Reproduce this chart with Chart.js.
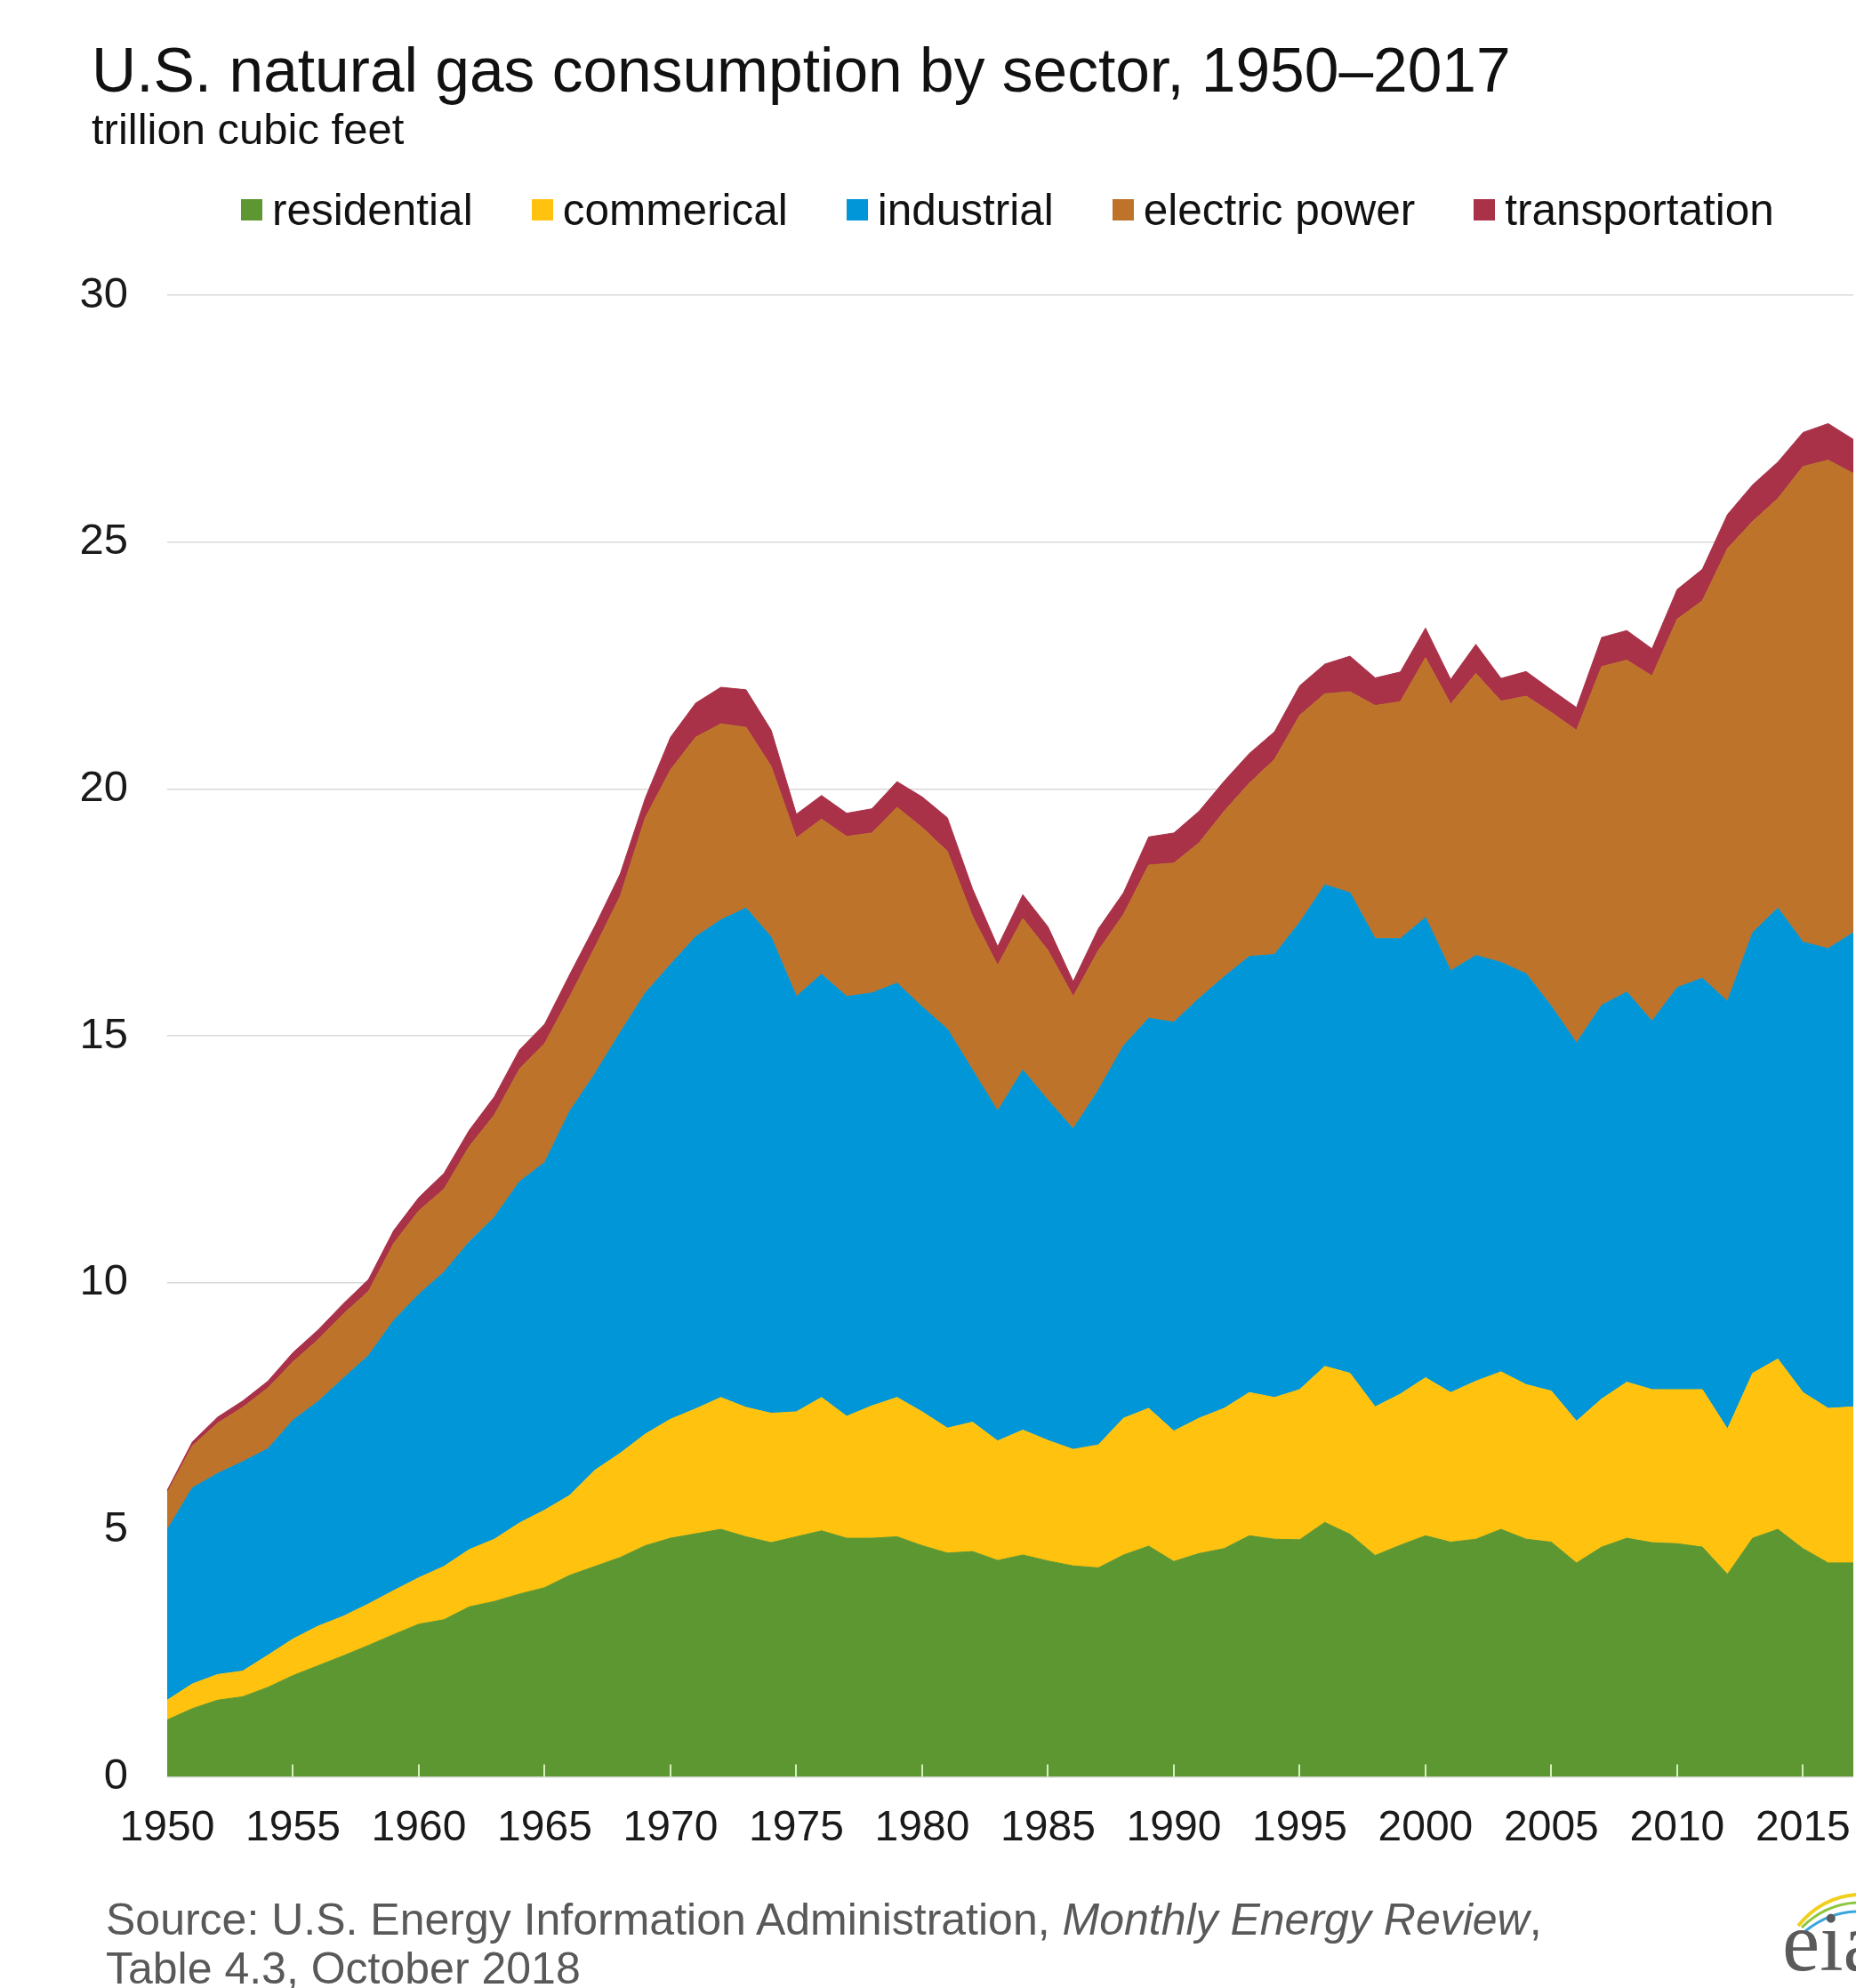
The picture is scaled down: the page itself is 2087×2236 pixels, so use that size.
<!DOCTYPE html>
<html>
<head>
<meta charset="utf-8">
<script src="https://cdn.jsdelivr.net/npm/chart.js@4.4.1/dist/chart.umd.min.js"></script>
<style>
html,body{margin:0;padding:0;background:#fff;width:2087px;height:2236px;overflow:hidden;font-family:"Liberation Sans",Arial,sans-serif;}
#wrap{position:relative;width:2087px;height:2236px;}
canvas{position:absolute;left:0;top:0;}
.t{position:absolute;white-space:nowrap;}
#title{left:103px;top:45px;font-size:69.5px;line-height:69px;color:#111;}
#sub{left:103px;top:121px;font-size:49px;line-height:49px;color:#111;}
#legend{position:absolute;left:271px;top:212px;height:48px;display:flex;align-items:center;gap:66px;font-size:49.5px;line-height:48px;color:#111;white-space:nowrap;}
.item{display:flex;align-items:center;}
.box{width:24px;height:24px;margin-right:11px;}
#src{left:119px;top:2132px;font-size:50px;line-height:55px;color:#595959;}
</style>
</head>
<body>
<div id="wrap">
<canvas id="c" width="2087" height="2236"></canvas>
<div class="t" id="title">U.S. natural gas consumption by sector, 1950–2017</div>
<div class="t" id="sub">trillion cubic feet</div>
<div id="legend"></div>
<div class="t" id="src">Source: U.S. Energy Information Administration, <i>Monthly Energy Review</i>,<br>Table 4.3, October 2018</div>
<svg style="position:absolute;left:2000px;top:2120px" width="87" height="116">
  <path d="M22 46 Q48 14 87 11" stroke="#f0cf1e" stroke-width="4" fill="none"/>
  <path d="M26 48 Q52 22 87 20" stroke="#8cc63e" stroke-width="3" fill="none"/>
  <path d="M30 52 Q56 31 87 30" stroke="#3aa5dc" stroke-width="3" fill="none"/>
  <text x="4" y="96" font-family="Liberation Serif, serif" font-size="95" fill="#5a5a5a">eia</text>
</svg>
</div>
<script>
// ---- data (trillion cubic feet) ----
const years = Array.from({length: 68}, (_, i) => String(1950 + i));

const residential = [
  1.15,1.38,1.55,1.62,1.81,2.05,2.25,2.45,2.66,2.88,
  3.09,3.18,3.44,3.55,3.70,3.83,4.08,4.26,4.44,4.68,
  4.83,4.92,5.01,4.86,4.74,4.86,4.98,4.83,4.83,4.86,
  4.68,4.53,4.56,4.38,4.49,4.37,4.27,4.23,4.49,4.67,
  4.36,4.52,4.62,4.88,4.81,4.80,5.15,4.91,4.48,4.69,
  4.88,4.75,4.81,5.01,4.81,4.75,4.33,4.65,4.83,4.74,
  4.72,4.65,4.10,4.83,5.01,4.62,4.33,4.33];

const commercial = [
  0.40,0.50,0.52,0.52,0.65,0.74,0.80,0.80,0.84,0.89,
  0.94,1.08,1.16,1.26,1.44,1.57,1.62,1.95,2.11,2.26,
  2.41,2.53,2.67,2.62,2.62,2.53,2.70,2.47,2.68,2.82,
  2.71,2.53,2.62,2.42,2.53,2.44,2.36,2.49,2.77,2.79,
  2.64,2.74,2.84,2.90,2.87,3.04,3.16,3.26,3.01,3.06,
  3.20,3.03,3.20,3.19,3.13,3.06,2.87,3.00,3.16,3.10,
  3.12,3.19,2.94,3.34,3.45,3.16,3.13,3.16];

const industrial = [
  3.45,3.97,4.07,4.24,4.18,4.43,4.55,4.82,5.03,5.47,
  5.74,5.96,6.23,6.52,6.91,7.04,7.78,8.03,8.52,8.93,
  9.21,9.56,9.67,10.11,9.64,8.41,8.57,8.50,8.36,8.39,
  8.20,8.08,7.13,6.68,7.29,6.89,6.49,7.18,7.54,7.90,
  8.28,8.50,8.74,8.83,8.97,9.46,9.75,9.73,9.48,9.22,
  9.32,8.54,8.62,8.29,8.32,7.79,7.66,7.97,7.90,7.46,
  8.14,8.33,8.66,8.92,9.13,9.12,9.31,9.60];

const electricPower = [
  0.75,0.85,1.02,1.10,1.23,1.18,1.25,1.30,1.30,1.56,
  1.69,1.68,1.93,2.07,2.28,2.41,2.32,2.56,2.76,3.55,
  3.94,4.04,3.97,3.66,3.46,3.21,3.14,3.24,3.24,3.56,
  3.63,3.60,3.11,2.95,3.07,3.03,2.68,2.83,2.66,3.10,
  3.22,3.15,3.35,3.51,3.95,4.19,3.87,4.07,4.72,4.80,
  5.26,5.40,5.71,5.29,5.62,5.95,6.33,6.86,6.72,6.99,
  7.46,7.64,9.17,8.33,8.29,9.63,9.89,9.30];

const transportation = [
  0.05,0.08,0.12,0.13,0.14,0.19,0.20,0.21,0.24,0.26,
  0.27,0.32,0.33,0.37,0.39,0.39,0.45,0.43,0.45,0.40,
  0.66,0.69,0.74,0.76,0.73,0.48,0.48,0.47,0.49,0.52,
  0.62,0.68,0.56,0.38,0.48,0.48,0.30,0.44,0.44,0.57,
  0.61,0.64,0.61,0.60,0.56,0.60,0.60,0.72,0.56,0.60,
  0.60,0.50,0.59,0.46,0.50,0.46,0.46,0.59,0.60,0.55,
  0.60,0.64,0.69,0.74,0.74,0.69,0.74,0.69];

const seriesNames = ['residential','commerical','industrial','electric power','transportation'];
const seriesColors = ['#5d9732','#ffc20e','#0096d7','#bd732a','#a93249'];
const seriesData = [residential, commercial, industrial, electricPower, transportation];

const yTicks = [0,5,10,15,20,25,30];

// ---- legend (HTML text) ----
const lg = document.getElementById('legend');
seriesNames.forEach((n, i) => {
  const it = document.createElement('div'); it.className = 'item';
  const b = document.createElement('div'); b.className = 'box'; b.style.background = seriesColors[i];
  const s = document.createElement('span'); s.textContent = n;
  it.appendChild(b); it.appendChild(s); lg.appendChild(it);
});

const FONT = '"Liberation Sans", Arial, sans-serif';

const tickMarks = {
  id: 'tickMarks',
  afterDatasetsDraw(c) {
    const xs = c.scales.x, a = c.chartArea, g = c.ctx;
    g.save();
    g.strokeStyle = 'rgba(225,250,200,0.9)';
    g.lineWidth = 2;
    years.forEach((yr, i) => {
      if (+yr % 5 === 0 && +yr !== 1950) {
        const px = Math.round(xs.getPixelForValue(i));
        g.beginPath(); g.moveTo(px, a.bottom); g.lineTo(px, a.bottom - 14); g.stroke();
      }
    });
    g.restore();
  }
};

new Chart(document.getElementById('c').getContext('2d'), {
  type: 'line',
  data: {
    labels: years,
    datasets: seriesData.map((d, i) => ({
      label: seriesNames[i],
      data: d,
      backgroundColor: seriesColors[i],
      borderColor: seriesColors[i],
      borderWidth: 1,
      pointRadius: 0,
      tension: 0,
      fill: i === 0 ? 'origin' : '-1'
    }))
  },
  options: {
    responsive: false,
    animation: false,
    devicePixelRatio: 1,
    layout: { padding: { top: 332, left: 90, right: 3, bottom: 120 } },
    plugins: { legend: { display: false }, tooltip: { enabled: false }, title: { display: false } },
    scales: {
      x: {
        type: 'category',
        offset: false,
        grid: { display: false, drawTicks: false },
        border: { display: false },
        ticks: {
          autoSkip: false, maxRotation: 0, minRotation: 0, padding: 30,
          color: '#1a1a1a', font: { size: 48, family: FONT },
          callback: (v, i) => (+years[i] % 5 === 0 ? years[i] : '')
        },
        afterFit: (s) => { s.paddingLeft = 0; s.paddingRight = 0; }
      },
      y: {
        stacked: true,
        min: yTicks[0], max: yTicks[yTicks.length - 1],
        ticks: { stepSize: 5, padding: 44, color: '#1a1a1a', font: { size: 49, family: FONT } },
        grid: { color: '#d9d9d9', lineWidth: 1.5, drawTicks: false },
        border: { display: false },
        afterFit: (s) => { s.paddingTop = 0; s.paddingBottom = 0; s.width = 98; }
      }
    }
  },
  plugins: [tickMarks]
});
</script>
</body>
</html>
